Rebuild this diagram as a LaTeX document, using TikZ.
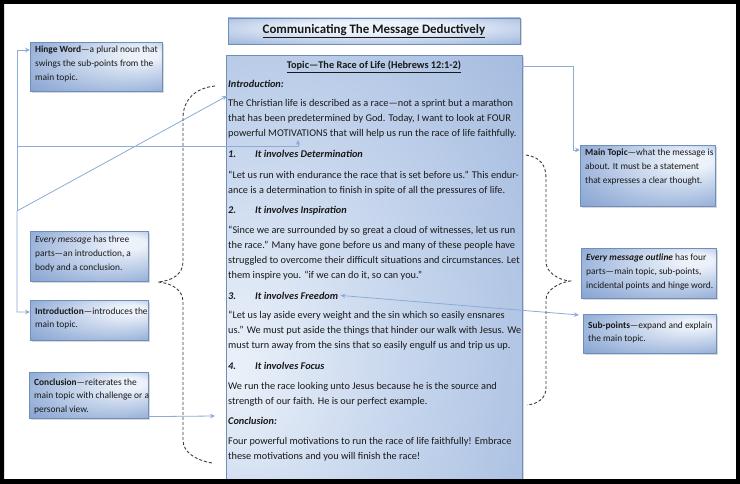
\documentclass[tikz,border=0pt]{standalone}
\usepackage{fontspec}
\setmainfont{Carlito}
\usetikzlibrary{arrows.meta,shadows,calc}
\definecolor{boxdark}{RGB}{112,147,202}
\definecolor{sidedark}{RGB}{104,140,198}
\definecolor{boxmid}{RGB}{196,212,236}
\definecolor{boxlight}{RGB}{236,242,250}
\definecolor{boxborder}{RGB}{112,142,188}
\definecolor{conncol}{RGB}{140,172,215}
\definecolor{txt}{RGB}{25,25,25}
\definecolor{bracecol}{RGB}{60,60,60}
\pgfdeclareradialshading{sideshade}{\pgfpoint{20bp}{15bp}}{color(0bp)=(boxlight); color(6bp)=(boxlight); color(50bp)=(sidedark)}
\pgfdeclareradialshading{mainshade}{\pgfpoint{-25bp}{-12bp}}{color(0bp)=(boxlight); color(25bp)=(boxmid); color(85bp)=(boxdark)}
\pgfdeclareradialshading{titleshade}{\pgfpoint{0bp}{10bp}}{color(0bp)=(boxlight); color(12bp)=(boxlight); color(52bp)=(boxdark)}
\newcommand\tl[1]{\begin{tabular}[t]{@{}l@{}}#1\end{tabular}}
\newcommand\hd[2]{\textbf{\textit{\makebox[27pt][l]{#1}#2}}}
\tikzset{
  sidebox/.style={draw=boxborder, line width=0.6pt, shade, shading=sideshade, anchor=north west, inner sep=0pt,
    drop shadow={shadow xshift=1.5pt, shadow yshift=-1.5pt, opacity=0.3}},
  mainbox/.style={draw=boxborder, line width=0.6pt, shade, shading=mainshade, anchor=north west, inner sep=0pt,
    drop shadow={shadow xshift=1.5pt, shadow yshift=-1.5pt, opacity=0.3}},
  titlebox/.style={draw=boxborder, line width=0.6pt, shade, shading=titleshade, inner sep=0pt,
    drop shadow={shadow xshift=1.5pt, shadow yshift=-1.5pt, opacity=0.3}},
  mtext/.style={anchor=base west, inner sep=0pt, font=\fontsize{10.3}{15}\selectfont, text=txt},
  stext/.style={anchor=base west, inner sep=0pt, font=\fontsize{9.4}{13.8}\selectfont, text=txt},
  conn/.style={draw=conncol, line width=0.8pt},
  tip/.tip={Stealth[length=5pt,width=4.5pt]},
  bracepath/.style={draw=bracecol, line width=0.9pt, dash pattern=on 3pt off 2pt},
}
\begin{document}
\begin{tikzpicture}[x=1pt,y=-1pt]
\useasboundingbox (0,0) rectangle (740,484);
\fill[white] (0,0) rectangle (740,484);

% title
\node[titlebox, minimum width=292pt, minimum height=26pt, font=\fontsize{12.9}{15}\selectfont\bfseries, text=txt] (title) at (374,31) {\underline{Communicating The Message Deductively}};

% main box
\node[mainbox, minimum width=296pt, minimum height=426pt] (main) at (226,55) {};

\node[mtext, anchor=base] (topic) at (374,69) {\textbf{\underline{Topic—The Race of Life (Hebrews 12:1-2)}}};
\node[mtext] (introh) at (228,88) {\textbf{\textit{Introduction:}}};
\node[mtext] (introp) at (228,107) {\tl{The Christian life is described as a race—not a sprint but a marathon\\
that has been predetermined by God. Today, I want to look at FOUR\\
powerful MOTIVATIONS that will help us run the race of life faithfully.}};
\node[mtext] (h1) at (228,158) {\hd{1.}{It involves Determination}};
\node[mtext] (p1) at (228,179) {\tl{“Let us run with endurance the race that is set before us.” This endur-\\
ance is a determination to finish in spite of all the pressures of life.}};
\node[mtext] (h2) at (228,214) {\hd{2.}{It involves Inspiration}};
\node[mtext] (p2) at (228,234) {\tl{“Since we are surrounded by so great a cloud of witnesses, let us run\\
the race.” Many have gone before us and many of these people have\\
struggled to overcome their difficult situations and circumstances. Let\\
them inspire you. “if we can do it, so can you.”}};
\node[mtext] (h3) at (228,299) {\hd{3.}{It involves Freedom}};
\node[mtext] (p3) at (228,319) {\tl{“Let us lay aside every weight and the sin which so easily ensnares\\
us.” We must put aside the things that hinder our walk with Jesus. We\\
must turn away from the sins that so easily engulf us and trip us up.}};
\node[mtext] (h4) at (228,369) {\hd{4.}{It involves Focus}};
\node[mtext] (p4) at (228,389) {\tl{We run the race looking unto Jesus because he is the source and\\
strength of our faith. He is our perfect example.}};
\node[mtext] (conch) at (228,424) {\textbf{\textit{Conclusion:}}};
\node[mtext] (p5) at (228,444) {\tl{Four powerful motivations to run the race of life faithfully! Embrace\\
these motivations and you will finish the race!}};

% left boxes
\node[sidebox, minimum width=132pt, minimum height=49pt] (hinge) at (30,42) {};
\node[stext] (hingetx) at (35,53) {\tl{\textbf{Hinge Word}—a plural noun that\\ swings the sub-points from the\\ main topic.}};

\node[sidebox, minimum width=118pt, minimum height=50pt] (every) at (30,231) {};
\node[stext] (everytx) at (35,243) {\tl{\textit{Every message} has three\\ parts—an introduction, a\\ body and a conclusion.}};

\node[sidebox, minimum width=118pt, minimum height=40pt] (introbox) at (30,300) {};
\node[stext] (introtx) at (35,314) {\tl{\textbf{Introduction}—introduces the\\ main topic.}};

\node[sidebox, minimum width=119pt, minimum height=46pt] (concbox) at (29,372) {};
\node[stext] (conctx) at (34,385) {\tl{\textbf{Conclusion}—reiterates the\\ main topic with challenge or a\\ personal view.}};

% right boxes
\node[sidebox, minimum width=135pt, minimum height=61pt] (maintop) at (580,145) {};
\node[stext] (maintoptx) at (585,156) {\tl{\textbf{Main Topic}—what the message is\\ about. It must be a statement\\ that expresses a clear thought.}};

\node[sidebox, minimum width=135pt, minimum height=50pt] (outline) at (581,248) {};
\node[stext] (outlinetx) at (586,261) {\tl{\textit{\textbf{Every message outline}} has four\\ parts—main topic, sub-points,\\ incidental points and hinge word.}};

\node[sidebox, minimum width=133pt, minimum height=39pt] (subp) at (583,314) {};
\node[stext] (subptx) at (588,328) {\tl{\textbf{Sub-points}—expand and explain\\ the main topic.}};

% connectors
\coordinate (motiv) at (298,140);
\coordinate (railA) at (17,146);
\coordinate (railB) at (17,211);
\coordinate (hingeIn) at ([yshift=-8pt]hinge.north west);
\draw[conn, tip-tip] (motiv) |- (railA) |- (hingeIn);
\draw[conn] (railA) -- (railB);

\coordinate (introLbl) at (227,96);
\coordinate (introIn) at ([yshift=-12pt]introbox.north west);
\draw[conn, tip-tip] (introLbl) -- (railB) |- (introIn);

\coordinate (concOut) at ([yshift=2pt]concbox.south east);
\coordinate (concTgt) at (215,416);
\draw[conn, -tip] (concOut) -- (concTgt);

\coordinate (topicR) at (522,66);
\coordinate (mtIn) at ([yshift=-5pt]maintop.north west);
\coordinate (mtTurn) at (573,150);
\draw[conn, -tip] (topicR) -| (mtTurn) -- (mtIn);

\coordinate (freedom) at ([xshift=2pt]h3.east);
\coordinate (spIn) at ([xshift=-4pt,yshift=-1pt]subp.north west);
\draw[conn, tip-tip] (freedom) -- (spIn);

% braces
\draw[bracepath] (215,86) .. controls (195,88) and (183,100) .. (183,118) -- (183,262)
  .. controls (183,274) and (172,281) .. (158,282) .. controls (172,283) and (183,290) .. (183,302)
  -- (183,440) .. controls (183,452) and (195,460) .. (212,463);
\draw[bracepath] (526,155) .. controls (540,157) and (546,165) .. (546,178) -- (546,262)
  .. controls (546,272) and (558,280) .. (570,281) .. controls (558,283) and (546,290) .. (546,300)
  -- (546,388) .. controls (546,398) and (538,404) .. (527,405);

% black frame
\fill[black, even odd rule] (0,0) rectangle (740,484) (4,4) rectangle (736,479);
\end{tikzpicture}
\end{document}
